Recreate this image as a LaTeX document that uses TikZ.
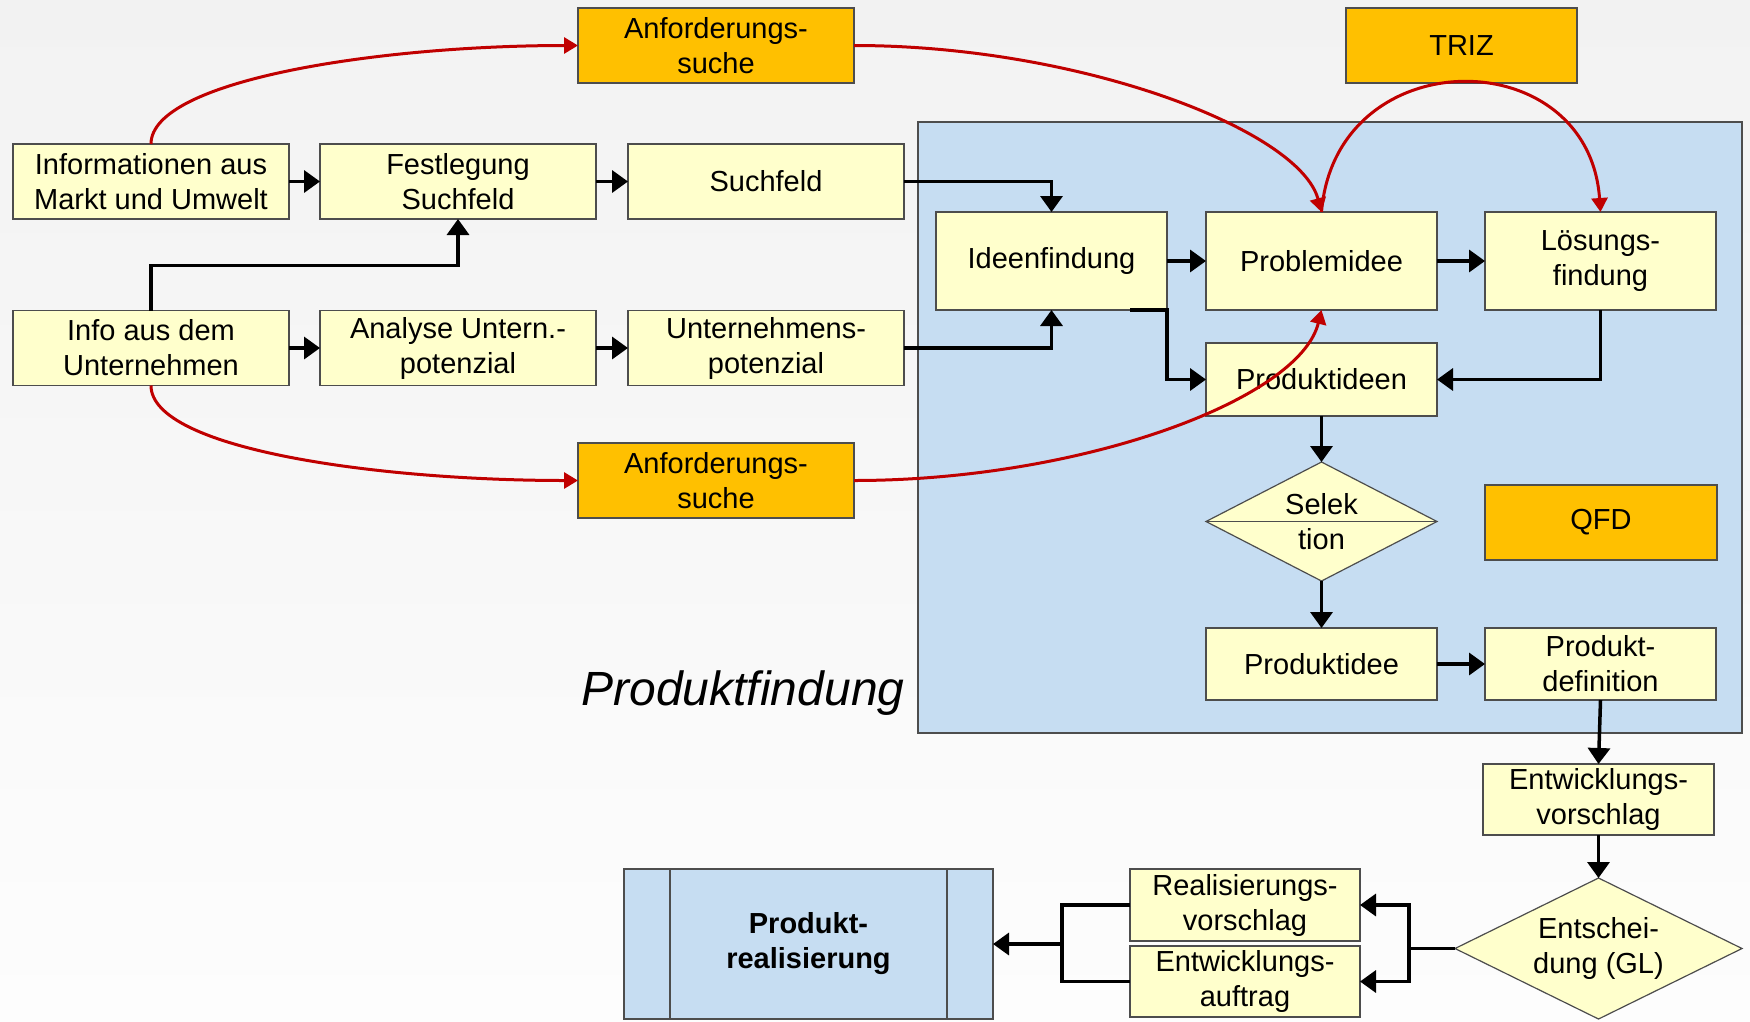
\documentclass[tikz,border=0pt]{standalone}
\usepackage{fontspec}
\setmainfont{Liberation Sans}
\usetikzlibrary{arrows.meta,shapes.geometric,calc}
\definecolor{boxyellow}{HTML}{FFFFCC}
\definecolor{boxorange}{HTML}{FFC000}
\definecolor{panelblue}{RGB}{198,221,242}
\definecolor{redline}{HTML}{C00000}
\definecolor{bgtop}{HTML}{F2F2F2}
\definecolor{bgbot}{HTML}{FDFDFD}
\definecolor{edgegray}{HTML}{4D4D4D}
\begin{document}
\begin{tikzpicture}[x=1pt,y=-1pt,
  txt/.style={font=\fontsize{29}{35}\selectfont},
  ybox/.style={txt, draw=edgegray, line width=1.2pt, fill=boxyellow, minimum width=276pt, minimum height=75pt, inner sep=0pt, outer sep=0pt, align=center},
  sbox/.style={ybox, minimum width=231pt},
  obox/.style={ybox, fill=boxorange},
  dia/.style={txt, diamond, draw=edgegray, line width=1.2pt, fill=boxyellow, inner sep=0pt, outer sep=0pt, align=center},
  conn/.style={line width=3.5pt, -{Triangle[length=16pt,width=22pt]}},
  plain/.style={line width=3.5pt},
  redconn/.style={line width=3pt, draw=redline, -{Triangle[length=14pt,width=16pt]}, fill=none}
]
\useasboundingbox (0,0) rectangle (1750,1021);
\fill[top color=bgtop, bottom color=bgbot] (0,0) rectangle (1750,1021);

% panel
\node[draw=edgegray, line width=1.5pt, fill=panelblue, minimum width=824pt, minimum height=611pt, inner sep=0pt, outer sep=0pt] (panel) at (1330,427.5) {};
\node[anchor=base east, font=\fontsize{48}{56}\selectfont\itshape] (pf) at (908,705) {Produktfindung};

% left boxes
\node[ybox] (inf) at (151,181.5) {Informationen aus\\Markt und Umwelt};
\node[ybox] (fest) at (458,181.5) {Festlegung\\Suchfeld};
\node[ybox] (such) at (766,181.5) {Suchfeld};
\node[ybox] (infou) at (151,348) {Info aus dem\\Unternehmen};
\node[ybox] (ana) at (458,348) {Analyse Untern.-\\potenzial};
\node[ybox] (up) at (766,348) {Unternehmens-\\potenzial};
\node[obox] (anf1) at (716,45.5) {Anforderungs-\\suche};
\node[obox] (anf2) at (716,480.5) {Anforderungs-\\suche};
\node[obox, minimum width=231pt] (triz) at (1461.5,45.5) {TRIZ};

% panel content
\node[sbox, minimum height=98pt] (idee) at (1051.5,261) {Ideenfindung};
\node[sbox, minimum height=98pt] (prob) at (1321.5,261) {Problemidee};
\node[sbox, minimum height=98pt] (loes) at (1600.5,261) {Lösungs-\\findung};
\node[sbox, minimum height=73pt] (pideen) at (1321.5,379.5) {Produktideen};
\node[dia, aspect=1.94, minimum width=231pt, minimum height=119pt] (sel) at (1321.5,521.5) {Selek\\tion};
\draw[draw=edgegray, line width=1.2pt] (sel.west) -- (sel.east);
\node[obox, minimum width=232pt] (qfd) at (1601,522.5) {QFD};
\node[sbox, minimum height=72pt] (pidee) at (1321.5,664) {Produktidee};
\node[sbox, minimum height=72pt] (pdef) at (1600.5,664) {Produkt-\\definition};

% bottom
\node[sbox, minimum height=71pt] (ev) at (1598.5,799.5) {Entwicklungs-\\vorschlag};
\node[dia, aspect=2.04, minimum width=287pt, minimum height=141pt] (ent) at (1598.5,948.5) {Entschei-\\dung (GL)};
\node[sbox, minimum width=230pt, minimum height=72pt] (rv) at (1245,905) {Realisierungs-\\vorschlag};
\node[sbox, minimum width=230pt, minimum height=71pt] (ea) at (1245,981.5) {Entwicklungs-\\auftrag};
\node[ybox, fill=panelblue, minimum width=369pt, minimum height=150pt, font=\fontsize{29}{35}\selectfont\bfseries] (pr) at (808.5,944) {Produkt-\\realisierung};
\draw[draw=edgegray, line width=1.2pt] ([xshift=46pt]pr.north west) -- ([xshift=46pt]pr.south west);
\draw[draw=edgegray, line width=1.2pt] ([xshift=-46pt]pr.north east) -- ([xshift=-46pt]pr.south east);

% black connectors
\draw[conn] (inf.east) -- (fest.west);
\draw[conn] (fest.east) -- (such.west);
\draw[conn] (infou.east) -- (ana.west);
\draw[conn] (ana.east) -- (up.west);
\draw[conn] (infou.north) -- ++(0,-45) -| (fest.south);
\draw[conn] (such.east) -| (idee.north);
\draw[conn] (up.east) -| (idee.south);
\draw[conn] (idee.east) -- (prob.west);
\draw[conn] (prob.east) -- (loes.west);
\draw[conn] ([xshift=-37pt]idee.south east) -- (idee.south east) |- (pideen.west);
\draw[conn] (loes.south) |- (pideen.east);
\draw[conn] (pideen.south) -- (sel.north);
\draw[conn] (sel.south) -- (pidee.north);
\draw[conn] (pidee.east) -- (pdef.west);
\draw[conn] (pdef.south) -- (ev.north);
\draw[conn] (ev.south) -- (ent.north);
\coordinate (jr) at ($(ent.west)+(-46,0)$);
\draw[plain] (ent.west) -- (jr);
\draw[conn] (jr) |- (rv.east);
\draw[conn] (jr) |- (ea.east);
\coordinate (jl) at (1062,944);
\draw[plain] (rv.west) -| (jl) |- (ea.west);
\draw[conn] (jl) -- (pr.east);

% red connectors
\draw[redconn] (inf.north) .. controls +(0,-64) and +(-198,0) .. (anf1.west);
\draw[redconn] (infou.south) .. controls +(0,64) and +(-198,0) .. (anf2.west);
\draw[redconn] (anf1.east) .. controls +(226,0) and +(-22,-82) .. (prob.north);
\draw[redconn] (prob.north) .. controls +(14,-172) and +(-12,-172) .. (loes.north);
\draw[redconn] (anf2.east) .. controls +(226,0) and +(-22,90) .. (prob.south);
\end{tikzpicture}
\end{document}
